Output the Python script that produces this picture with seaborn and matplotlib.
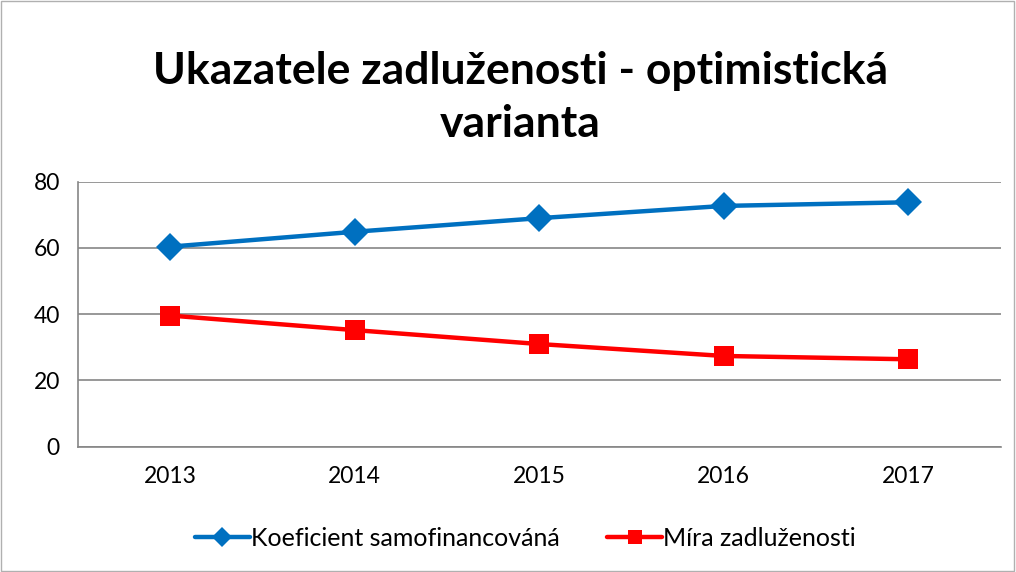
import pandas as pd
import matplotlib.pyplot as plt
import seaborn as sns
from matplotlib.patches import Rectangle

years = ['2013', '2014', '2015', '2016', '2017']
koeficient = [60.4, 64.9, 69.0, 72.7, 73.8]
mira = [39.6, 35.2, 31.0, 27.4, 26.4]
series_names = ['Koeficient samofinancováná', 'Míra zadluženosti']
y_ticks = [0, 20, 40, 60, 80]

df = pd.DataFrame({
    'rok': years * 2,
    'hodnota': koeficient + mira,
    'serie': [series_names[0]] * 5 + [series_names[1]] * 5,
})

sns.set_style('white')
plt.rcParams['font.family'] = ['Lato', 'DejaVu Sans']
plt.rcParams['text.color'] = 'black'
plt.rcParams['xtick.labelcolor'] = 'black'
plt.rcParams['ytick.labelcolor'] = 'black'

fig = plt.figure(figsize=(10.16, 5.72), dpi=100)
ax = fig.add_axes([0.0768, 0.219, 0.908, 0.4633])

sns.lineplot(data=df, x='rok', y='hodnota', hue='serie', style='serie',
             palette={series_names[0]: '#0070C0', series_names[1]: '#FF0000'},
             markers={series_names[0]: 'D', series_names[1]: 's'},
             dashes=False, linewidth=3.2, markersize=14, markeredgewidth=0,
             sort=False, ax=ax)

ax.set_xlim(-0.5, 4.5)
ax.set_ylim(0, 80)
ax.set_yticks(y_ticks)
ax.set_xticks(range(len(years)))
ax.set_xticklabels(years)
ax.set_xticks([i - 0.5 for i in range(len(years) + 1)], minor=True)
ax.tick_params(axis='x', which='major', length=0, pad=14, labelsize=16.5)
ax.tick_params(axis='x', which='minor', length=6, width=1.2, color='#868686', direction='out')
ax.tick_params(axis='y', length=7, width=1.2, color='#868686', direction='out', pad=6, labelsize=16.5)
ax.set_xlabel('')
ax.set_ylabel('')
ax.grid(axis='y', color='#868686', linewidth=1.2)
ax.set_axisbelow(True)
for s in ['top', 'right']:
    ax.spines[s].set_visible(False)
for s in ['left', 'bottom']:
    ax.spines[s].set_color('#868686')
    ax.spines[s].set_linewidth(1.2)

fig.text(0.512, 0.853, 'Ukazatele zadluženosti - optimistická',
         ha='center', va='baseline', fontsize=32, fontweight='bold')
fig.text(0.512, 0.760, 'varianta',
         ha='center', va='baseline', fontsize=32, fontweight='bold')

handles, labels = ax.get_legend_handles_labels()
leg = ax.legend(handles, labels, loc='center', bbox_to_anchor=(0.517, 0.0594),
                bbox_transform=fig.transFigure, ncol=2, frameon=False,
                fontsize=18, handlelength=2.2, columnspacing=1.9, handletextpad=0.05)
for h in leg.legend_handles:
    h.set_markersize(10)

fig.patches.append(Rectangle((0.001, 0.001), 0.997, 0.997, transform=fig.transFigure,
                             fill=False, edgecolor='#B0B0B0', linewidth=1))

fig.savefig('out.png', dpi=100)
